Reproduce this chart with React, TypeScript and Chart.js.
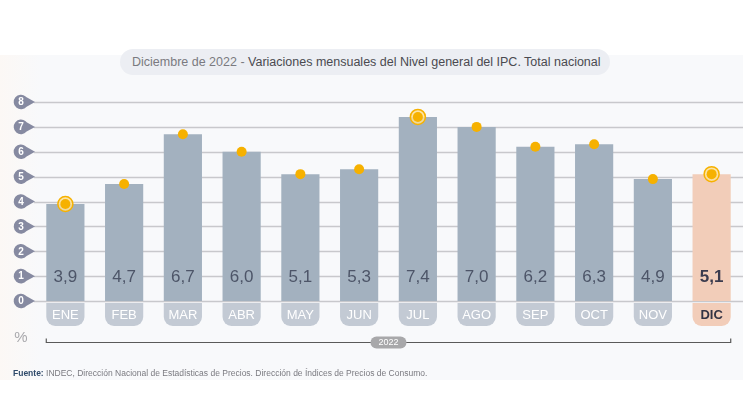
import React, { useEffect, useRef } from "react";
import { Chart, registerables } from "chart.js";

Chart.register(...registerables);

const months = ["ENE", "FEB", "MAR", "ABR", "MAY", "JUN", "JUL", "AGO", "SEP", "OCT", "NOV", "DIC"];
const values = [3.9, 4.7, 6.7, 6.0, 5.1, 5.3, 7.4, 7.0, 6.2, 6.3, 4.9, 5.1];
const ringed = [3.9, null, null, null, null, null, 7.4, null, null, null, null, 5.1];
const yTicks = [0, 1, 2, 3, 4, 5, 6, 7, 8];
const yearLabel = "2022";
const highlightIndex = 11;

const FONT = "'Liberation Sans', Arial, Helvetica, sans-serif";
const BAR = "#a3b1bf";
const HILITE = "#f2cdb9";
const ORANGE = "#f6b100";

const fmt = (v: number) => v.toFixed(1).replace(".", ",");

const decor = {
  id: "decor",
  beforeDatasetsDraw(chart: any) {
    const { ctx, chartArea, scales } = chart;
    const y = scales.y;
    ctx.save();
    // gridlines
    ctx.strokeStyle = "#c8c8cc";
    ctx.lineWidth = 1.5;
    yTicks.forEach((v) => {
      const py = Math.round(y.getPixelForValue(v)) + 0.5;
      ctx.beginPath();
      ctx.moveTo(chartArea.left - 2, py);
      ctx.lineTo(chart.width, py);
      ctx.stroke();
    });
    // badges
    yTicks.forEach((v) => {
      const py = y.getPixelForValue(v);
      const cx = 21;
      const r = 7.3;
      ctx.fillStyle = "#868aa1";
      ctx.beginPath();
      ctx.arc(cx, py, r, Math.PI * 0.22, Math.PI * 1.78);
      ctx.lineTo(cx + 14, py);
      ctx.closePath();
      ctx.fill();
      ctx.fillStyle = "#ffffff";
      ctx.font = `bold 10px ${FONT}`;
      ctx.textAlign = "center";
      ctx.textBaseline = "middle";
      ctx.fillText(String(v), cx, py + 0.5);
    });
    ctx.restore();
  },
  afterDatasetsDraw(chart: any) {
    const { ctx, scales } = chart;
    const y = scales.y;
    const meta = chart.getDatasetMeta(2);
    const y0 = y.getPixelForValue(0);
    const yLab = y.getPixelForValue(1);
    ctx.save();
    meta.data.forEach((bar: any, i: number) => {
      const hi = i === highlightIndex;
      // value label
      ctx.fillStyle = hi ? "#3b3b4e" : "#4d5568";
      ctx.font = `${hi ? "bold " : ""}17px ${FONT}`;
      ctx.textAlign = "center";
      ctx.textBaseline = "middle";
      ctx.fillText(fmt(values[i]), bar.x, yLab + 1);
      // month pill
      const w = bar.width;
      const left = bar.x - w / 2;
      ctx.fillStyle = hi ? HILITE : "#c3cad4";
      ctx.beginPath();
      ctx.roundRect(left, y0 + 2, w, 23, [0, 0, 9, 9]);
      ctx.fill();
      ctx.fillStyle = hi ? "#333344" : "#ffffff";
      ctx.font = `${hi ? "bold " : ""}13px ${FONT}`;
      ctx.fillText(months[i], bar.x, y0 + 14);
    });
    // bracket
    const first = meta.data[0];
    const last = meta.data[meta.data.length - 1];
    const bl = first.x - first.width / 2;
    const br = last.x + last.width / 2;
    const by = y0 + 41.5;
    ctx.strokeStyle = "#5a5a5a";
    ctx.lineWidth = 1.2;
    ctx.beginPath();
    ctx.moveTo(bl, by - 4);
    ctx.lineTo(bl, by);
    ctx.lineTo(br, by);
    ctx.lineTo(br, by - 4);
    ctx.stroke();
    const mid = (bl + br) / 2;
    ctx.fillStyle = "#a8a8aa";
    ctx.beginPath();
    ctx.roundRect(mid - 18, by - 6, 36, 12, 6);
    ctx.fill();
    ctx.fillStyle = "#ffffff";
    ctx.font = `9px ${FONT}`;
    ctx.textAlign = "center";
    ctx.textBaseline = "middle";
    ctx.fillText(yearLabel, mid, by + 0.5);
    // percent sign
    ctx.fillStyle = "#a9a9ad";
    ctx.font = `15px ${FONT}`;
    ctx.fillText("%", 21, by - 5);
    ctx.restore();
  },
};

export default function App() {
  const ref = useRef<HTMLCanvasElement>(null);
  useEffect(() => {
    if (!ref.current) return;
    const chart = new Chart(ref.current, {
      type: "bar",
      data: {
        labels: months,
        datasets: [
          {
            type: "line",
            data: values,
            showLine: false,
            pointRadius: 5,
            pointBackgroundColor: ORANGE,
            pointBorderWidth: 0,
            borderColor: ORANGE,
            order: 1,
            clip: false,
          } as any,
          {
            type: "line",
            data: ringed,
            showLine: false,
            pointRadius: 7.5,
            pointBackgroundColor: "rgba(253,225,150,0.85)",
            pointBorderColor: ORANGE,
            pointBorderWidth: 1.5,
            order: 2,
            clip: false,
          } as any,
          {
            type: "bar",
            data: values,
            backgroundColor: values.map((_, i) => (i === highlightIndex ? HILITE : BAR)),
            barPercentage: 0.65,
            categoryPercentage: 1,
            order: 3,
          } as any,
        ],
      },
      options: {
        animation: false,
        responsive: true,
        maintainAspectRatio: false,
        layout: { autoPadding: false, padding: { left: 36, right: 2, top: 102, bottom: 102 } },
        plugins: { legend: { display: false }, tooltip: { enabled: false } },
        scales: {
          x: { display: false, offset: true },
          y: { display: false, min: 0, max: 8 },
        },
      } as any,
      plugins: [decor],
    });
    return () => chart.destroy();
  }, []);

  return (
    <div style={{ position: "absolute", left: 0, top: 0, width: 743, height: 403, background: "#ffffff", overflow: "hidden", fontFamily: FONT }}>
      <div style={{ position: "absolute", left: 0, top: 55, width: 743, height: 325, background: "linear-gradient(90deg, #fcf8f5 0px, #f8f9fb 40px, #f8f9fb 100%)" }} />
      <div style={{ position: "absolute", left: 120, top: 49, width: 490, height: 26, borderRadius: 13, background: "#eceef3", display: "flex", alignItems: "center", paddingLeft: 12, boxSizing: "border-box", fontSize: 12.5, whiteSpace: "nowrap" }}>
        <span style={{ color: "#7a7a80" }}>Diciembre de 2022 -&nbsp;</span>
        <span style={{ color: "#4a4a50" }}>Variaciones mensuales del Nivel general del IPC. Total nacional</span>
      </div>
      <div style={{ position: "absolute", left: 0, top: 0, width: 743, height: 403 }}>
        <canvas ref={ref} />
      </div>
      <div style={{ position: "absolute", left: 13, top: 368, fontSize: 8.5, whiteSpace: "nowrap", color: "#7a7a80" }}>
        <span style={{ color: "#2f4a6a", fontWeight: "bold" }}>Fuente:</span> INDEC, Dirección Nacional de Estadísticas de Precios. Dirección de Índices de Precios de Consumo.
      </div>
    </div>
  );
}
